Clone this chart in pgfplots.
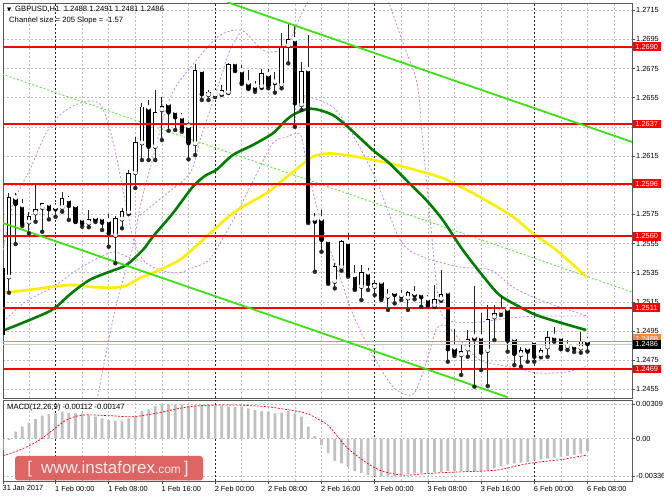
\documentclass[border=0pt]{standalone}
\usepackage{fontspec}
\setmainfont{Liberation Sans}
\newfontfamily\dejavu{DejaVu Sans}
\usepackage{pgfplots}
\usepackage{pgfplotstable}
\pgfplotsset{compat=1.18}

\definecolor{gridc}{RGB}{190,190,190}
\definecolor{limeg}{RGB}{60,225,20}
\definecolor{lgreen}{RGB}{90,235,60}
\definecolor{madark}{RGB}{0,125,0}
\definecolor{mayel}{RGB}{255,238,0}
\definecolor{viol}{RGB}{195,135,230}
\definecolor{wm}{RGB}{221,88,88}
\definecolor{wmt}{RGB}{252,232,232}
\definecolor{histc}{RGB}{192,192,192}
\definecolor{orng}{RGB}{255,135,60}
\definecolor{bidg}{RGB}{200,200,200}

\newcommand{\tk}{\fontsize{7.4}{8.5}\selectfont}
\newcommand{\tx}{\fontsize{7.7}{9}\selectfont}

\pgfplotstableread{
x O H L C
-8 1.25383 1.25396 1.24800 1.24923
-7 1.25319 1.25899 1.25213 1.25871
-6 1.25860 1.25899 1.25547 1.25821
-5 1.25808 1.25856 1.25671 1.25684
-4 1.25696 1.25769 1.25620 1.25741
-3 1.25758 1.25952 1.25700 1.25787
-2 1.25796 1.25830 1.25631 1.25826
-1 1.25819 1.25826 1.25716 1.25785
0 1.25796 1.25826 1.25734 1.25785
1 1.25796 1.25906 1.25769 1.25860
2 1.25849 1.25876 1.25712 1.25808
3 1.25808 1.25821 1.25698 1.25700
4 1.25716 1.25734 1.25666 1.25689
5 1.25689 1.25780 1.25662 1.25716
6 1.25727 1.25734 1.25698 1.25712
7 1.25723 1.25734 1.25643 1.25693
8 1.25705 1.25751 1.25529 1.25620
9 1.25604 1.25739 1.25415 1.25727
10 1.25716 1.25792 1.25655 1.25775
11 1.25762 1.26055 1.25753 1.26032
12 1.26034 1.26283 1.25931 1.26244
13 1.26238 1.26514 1.26123 1.26489
14 1.26478 1.26535 1.26123 1.26214
15 1.26214 1.26603 1.26123 1.26454
16 1.26466 1.26557 1.26260 1.26493
17 1.26507 1.26523 1.26324 1.26450
18 1.26454 1.26466 1.26329 1.26416
19 1.26416 1.26445 1.26317 1.26334
20 1.26351 1.26386 1.26128 1.26238
21 1.26233 1.26785 1.26157 1.26740
22 1.26735 1.26740 1.26535 1.26574
23 1.26569 1.26603 1.26535 1.26589
24 1.26569 1.26583 1.26555 1.26575
25 1.26576 1.26637 1.26569 1.26600
26 1.26586 1.26788 1.26583 1.26781
27 1.26788 1.26795 1.26733 1.26737
28 1.26733 1.26775 1.26644 1.26653
29 1.26649 1.26740 1.26610 1.26615
30 1.26627 1.26667 1.26591 1.26610
31 1.26626 1.26745 1.26617 1.26718
32 1.26706 1.26747 1.26615 1.26634
33 1.26655 1.26729 1.26585 1.26651
34 1.26637 1.26996 1.26615 1.26900
35 1.26905 1.27060 1.26786 1.26951
36 1.26946 1.27049 1.26351 1.26512
37 1.26500 1.26797 1.26466 1.26733
38 1.26740 1.26980 1.25691 1.25700
39 1.25716 1.25758 1.25357 1.25700
40 1.25716 1.25780 1.25494 1.25575
41 1.25568 1.25575 1.25273 1.25282
42 1.25289 1.25415 1.25243 1.25398
43 1.25387 1.25575 1.25364 1.25568
44 1.25556 1.25620 1.25323 1.25335
45 1.25328 1.25403 1.25232 1.25241
46 1.25254 1.25403 1.25163 1.25357
47 1.25346 1.25380 1.25232 1.25273
48 1.25254 1.25300 1.25197 1.25278
49 1.25284 1.25300 1.25163 1.25175
50 1.25186 1.25236 1.25095 1.25204
51 1.25213 1.25227 1.25140 1.25197
52 1.25192 1.25232 1.25163 1.25189
53 1.25175 1.25225 1.25095 1.25216
54 1.25204 1.25259 1.25168 1.25195
55 1.25204 1.25218 1.25117 1.25182
56 1.25168 1.25197 1.25122 1.25132
57 1.25125 1.25266 1.25115 1.25172
58 1.25168 1.25369 1.25158 1.25204
59 1.25216 1.25232 1.24740 1.24825
60 1.24832 1.24962 1.24779 1.24793
61 1.24786 1.24854 1.24649 1.24815
62 1.24825 1.24957 1.24774 1.24896
63 1.24907 1.25259 1.24569 1.24894
64 1.24907 1.25072 1.24683 1.24802
65 1.24815 1.25129 1.24573 1.25031
66 1.25045 1.25129 1.24889 1.25076
67 1.25083 1.25197 1.25060 1.25106
68 1.25099 1.25108 1.24809 1.24884
69 1.24896 1.24909 1.24717 1.24793
70 1.24786 1.24839 1.24706 1.24820
71 1.24832 1.24839 1.24740 1.24809
72 1.24877 1.24889 1.24740 1.24774
73 1.24786 1.24832 1.24770 1.24820
74 1.24839 1.24953 1.24774 1.24911
75 1.24911 1.24980 1.24877 1.24894
76 1.24905 1.24911 1.24825 1.24832
77 1.24843 1.24889 1.24820 1.24859
78 1.24848 1.24855 1.24807 1.24832
79 1.24832 1.24946 1.24802 1.24884
80 1.24880 1.24910 1.24810 1.24860
}\candles

\pgfplotstableread{
x h
-8 -0.00102
-7 -0.00010
-6 0.00063
-5 0.00108
-4 0.00144
-3 0.00177
-2 0.00207
-1 0.00220
0 0.00228
1 0.00243
2 0.00234
3 0.00228
4 0.00228
5 0.00213
6 0.00198
7 0.00183
8 0.00168
9 0.00162
10 0.00162
11 0.00183
12 0.00198
13 0.00249
14 0.00264
15 0.00294
16 0.00309
17 0.00312
18 0.00309
19 0.00309
20 0.00297
21 0.00297
22 0.00297
23 0.00297
24 0.00297
25 0.00294
26 0.00288
27 0.00288
28 0.00288
29 0.00273
30 0.00258
31 0.00249
32 0.00243
33 0.00228
34 0.00234
35 0.00249
36 0.00228
37 0.00198
38 0.00108
39 0.00024
40 -0.00057
41 -0.00131
42 -0.00198
43 -0.00221
44 -0.00252
45 -0.00288
46 -0.00306
47 -0.00327
48 -0.00336
49 -0.00340
50 -0.00340
51 -0.00340
52 -0.00327
53 -0.00318
54 -0.00312
55 -0.00306
56 -0.00306
57 -0.00297
58 -0.00297
59 -0.00290
60 -0.00290
61 -0.00290
62 -0.00288
63 -0.00290
64 -0.00290
65 -0.00282
66 -0.00267
67 -0.00246
68 -0.00228
69 -0.00221
70 -0.00215
71 -0.00209
72 -0.00192
73 -0.00186
74 -0.00177
75 -0.00171
76 -0.00162
77 -0.00156
78 -0.00147
79 -0.00135
80 -0.00112
}\macd

\begin{document}
\begin{tikzpicture}
\path[use as bounding box, fill=white] (0bp,0bp) rectangle (664bp,498bp);

% ---------------- main price panel ----------------
\begin{axis}[
  at={(3bp,100bp)}, anchor=south west,
  scale only axis, width=629bp, height=395bp,
  xmin=-7.9, xmax=86.7, ymin=1.24491, ymax=1.272,
  axis line style={black!65, line width=0.8bp},
  xtick={-4,0,4,8,12,16,20,24,28,32,36,40,44,48,52,56,60,64,68,72,76,80,84},
  xticklabels={},
  xtick style={draw=none},
  ytick={1.2455,1.2475,1.2495,1.2515,1.2535,1.2555,1.2575,1.2595,1.2615,1.2635,1.2655,1.2675,1.2695,1.2715},
  yticklabels={1.2455,1.2475,1.2495,1.2515,1.2535,1.2555,1.2575,,1.2615,,1.2655,1.2675,1.2695,1.2715},
  ytick pos=right, yticklabel pos=right,
  tick align=outside, major tick length=3bp,
  ytick style={black!70, line width=0.6bp},
  yticklabel style={font=\tk, inner sep=0pt, xshift=1bp},
  scaled y ticks=false,
  grid=major,
  major grid style={gridc, dash pattern=on 2bp off 2bp, line width=0.6bp},
  extra x ticks={0,24,48,72}, extra x tick labels={},
  extra x tick style={grid=major, xtick style={draw=none},
     major grid style={black!85, dash pattern=on 2bp off 2bp, line width=0.7bp}},
]
% violet dashed envelope curves
\addplot[viol, dash pattern=on 2bp off 2bp, line width=0.8bp, smooth, tension=0.5] coordinates {
(-7.90,1.25506) (-6.39,1.25828) (-5.04,1.25952) (-3.53,1.26089) (-1.58,1.26295) (0.68,1.26432)
(2.93,1.26500) (5.19,1.26528) (6.69,1.26507) (7.75,1.26397) (8.95,1.26192) (10.00,1.25952)
(10.90,1.25746) (11.96,1.25540) (13.46,1.25424) (15.72,1.25369) (18.42,1.25348) (20.53,1.25383)
(22.94,1.25431) (25.03,1.25575) (27.29,1.25760) (30.31,1.26034) (32.71,1.26240) (34.82,1.26281)
(36.77,1.26301) (37.68,1.26123) (39.03,1.25849) (40.53,1.25609) (42.79,1.25321) (44.59,1.25081)
(47.30,1.24820) (50.76,1.24567) (53.62,1.24512) (55.12,1.24649) (56.32,1.24820) (57.37,1.24971)
(58.88,1.24985) (60.83,1.24889) (63.84,1.24752) (68.35,1.24704) (72.41,1.24663) (76.92,1.24669) (79.93,1.24711)};
\addplot[viol, dash pattern=on 2bp off 2bp, line width=0.8bp, smooth, tension=0.5] coordinates {
(-7.90,1.25012) (-4.59,1.25149) (-0.38,1.25252) (3.23,1.25369) (6.69,1.25458) (8.95,1.25492) (11.2,1.25451) (13.46,1.25424)};
\addplot[viol, dash pattern=on 2bp off 2bp, line width=0.8bp, smooth, tension=0.5] coordinates {
(6.24,1.24477) (8.20,1.24937) (9.70,1.25232) (11.65,1.25527) (12.71,1.25801) (14.96,1.26192) (16.46,1.26452)
(17.97,1.26617) (20.23,1.26754) (22.48,1.26877) (24.74,1.26980) (26.99,1.27015) (28.50,1.27001)
(30.31,1.26912) (31.81,1.26864) (33.76,1.26877) (35.27,1.26946) (36.77,1.27104) (38.28,1.27241)};
\addplot[viol, dash pattern=on 2bp off 2bp, line width=0.8bp, smooth, tension=0.5] coordinates {
(12.71,1.25746) (16.46,1.25883) (20.23,1.26034) (21.73,1.26260) (23.24,1.26466) (24.74,1.26672) (26.24,1.26877) (27.74,1.26994)};
\addplot[viol, dash pattern=on 2bp off 2bp, line width=0.8bp, smooth, tension=0.5] coordinates {
(49.86,1.27241) (52.27,1.26925) (54.37,1.26651) (55.12,1.26308) (55.87,1.25938) (56.78,1.25506)
(57.38,1.25232) (58.13,1.25060) (60.09,1.25012) (63.85,1.25012) (68.36,1.25040) (72.87,1.25053) (79.94,1.25053)};
\addplot[viol, dash pattern=on 2bp off 2bp, line width=0.8bp, smooth, tension=0.5] coordinates {
(36.77,1.26569) (42.19,1.26466) (47.75,1.26034) (51.82,1.25575) (55.28,1.25458) (60.84,1.25389)
(65.35,1.25369) (68.81,1.25252) (72.87,1.25163) (79.94,1.25053)};
% dashed middle channel line
\addplot[lgreen, dash pattern=on 2bp off 2bp, line width=0.9bp] coordinates {(-8.05,1.26713) (86.70,1.25218)};
% moving averages
\addplot[mayel, line width=2.6bp, smooth, tension=0.5] coordinates {
(-7.67,1.25213) (-3.41,1.25236) (2.11,1.25266) (6.12,1.25250) (10.12,1.25254) (12.63,1.25312)
(15.64,1.25369) (18.65,1.25437) (20.65,1.25513) (26.66,1.25758) (31.68,1.25895) (34.18,1.25986)
(36.69,1.26077) (38.69,1.26146) (41.20,1.26168) (45.22,1.26146) (51.23,1.26089) (57.74,1.26007)
(59.74,1.25967) (63.76,1.25871) (68.77,1.25734) (71.77,1.25620) (75.29,1.25506) (79.80,1.25323)};
\addplot[madark, line width=2.6bp, smooth, tension=0.5] coordinates {
(-7.67,1.24957) (-3.91,1.25026) (-0.41,1.25099) (2.36,1.25209) (5.11,1.25300) (8.12,1.25357)
(10.63,1.25403) (13.13,1.25506) (14.63,1.25597) (17.64,1.25758) (20.65,1.25940) (22.66,1.26020)
(24.17,1.26055) (26.66,1.26157) (29.67,1.26226) (32.68,1.26306) (34.18,1.26375) (35.68,1.26432)
(37.70,1.26471) (39.20,1.26471) (41.70,1.26432) (43.95,1.26351) (47.71,1.26192) (50.23,1.26100)
(53.23,1.25963) (55.74,1.25849) (58.24,1.25712) (61.25,1.25506) (64.77,1.25300) (66.77,1.25197)
(69.28,1.25129) (72.29,1.25060) (76.29,1.25003) (79.80,1.24957)};
% candles: wicks
\addplot[black!85, only marks, mark=none, forget plot,
  error bars/.cd, y dir=plus, y explicit, error mark=none,
  error bar style={line width=1bp, black!85}]
  table[x=x, y=L, y error expr={\thisrow{H}-\thisrow{L}}] {\candles};
% candles: bodies
\addplot[black, only marks, mark=none, forget plot,
  error bars/.cd, y dir=plus, y explicit, error mark=none,
  error bar style={line width=4.4bp, black}]
  table[x=x, y expr={min(\thisrow{O},\thisrow{C})}, y error expr={max(abs(\thisrow{C}-\thisrow{O}),0.00007)}] {\candles};
% candles: white interior of rising bars
\addplot[white, only marks, mark=none, forget plot,
  error bars/.cd, y dir=plus, y explicit, error mark=none,
  error bar style={line width=2.6bp, white}]
  table[x=x, y expr={\thisrow{O}+0.000057}, y error expr={(\thisrow{C}>\thisrow{O})*max(\thisrow{C}-\thisrow{O}-0.000114,0)}] {\candles};
% horizontal levels
\addplot[red, line width=1.6bp] coordinates {(-10,1.2690) (90,1.2690)};
\addplot[red, line width=1.6bp] coordinates {(-10,1.2637) (90,1.2637)};
\addplot[red, line width=1.6bp] coordinates {(-10,1.2596) (90,1.2596)};
\addplot[red, line width=1.6bp] coordinates {(-10,1.2560) (90,1.2560)};
\addplot[red, line width=1.6bp] coordinates {(-10,1.2511) (90,1.2511)};
\addplot[red, line width=1.6bp] coordinates {(-10,1.2469) (90,1.2469)};
\addplot[bidg, line width=1.3bp] coordinates {(-10,1.2486) (90,1.2486)};
\addplot[orng, line width=1bp] coordinates {(-10,1.2488) (90,1.2488)};
% channel lines
\addplot[limeg, line width=1.8bp] coordinates {(25.79,1.27206) (86.70,1.26247)};
\addplot[limeg, line width=1.8bp] coordinates {(-7.90,1.25691) (67.90,1.24498)};

\coordinate (r1) at (axis cs:86.7,1.2690);
\coordinate (r2) at (axis cs:86.7,1.2637);
\coordinate (r3) at (axis cs:86.7,1.2596);
\coordinate (r4) at (axis cs:86.7,1.2560);
\coordinate (r5) at (axis cs:86.7,1.2511);
\coordinate (r6) at (axis cs:86.7,1.2469);
\coordinate (ra) at (axis cs:86.7,1.24885);
\coordinate (rb) at (axis cs:86.7,1.2486);
\end{axis}

% ---------------- MACD panel ----------------
\begin{axis}[
  at={(3bp,17bp)}, anchor=south west,
  scale only axis, width=629bp, height=81bp,
  xmin=-7.9, xmax=86.7, ymin=-0.0038, ymax=0.00348,
  axis line style={black!65, line width=0.8bp},
  xtick={-7.9,0,8,16,24,32,40,48,56,64,72,80},
  xticklabels={31 Jan 2017,1 Feb 00:00,1 Feb 08:00,1 Feb 16:00,2 Feb 00:00,2 Feb 08:00,2 Feb 16:00,3 Feb 00:00,3 Feb 08:00,3 Feb 16:00,6 Feb 00:00,6 Feb 08:00},
  minor xtick={-4,4,12,20,28,36,44,52,60,68,76,84},
  xtick pos=bottom, ytick pos=right, yticklabel pos=right,
  tick align=outside, major tick length=3bp, minor tick length=0bp,
  tick style={black!70, line width=0.6bp},
  xticklabel style={font=\tk, anchor=north west, inner sep=0pt, yshift=-1.5bp, xshift=-0.5bp},
  ytick={-0.00336,0,0.00309},
  yticklabels={-0.00336,0.00,0.00309},
  yticklabel style={font=\tk, inner sep=0pt, xshift=1bp},
  scaled y ticks=false,
  xmajorgrids, xminorgrids, ymajorgrids,
  major grid style={gridc, dash pattern=on 2bp off 2bp, line width=0.6bp},
  minor grid style={gridc, dash pattern=on 2bp off 2bp, line width=0.6bp},
  extra x ticks={0,24,48,72}, extra x tick labels={},
  extra x tick style={grid=major, xtick style={draw=none},
     major grid style={black!85, dash pattern=on 2bp off 2bp, line width=0.7bp}},
]
\addplot[ybar, bar width=2.7bp, fill=histc, draw=none, forget plot] table[x=x,y=h] {\macd};
\addplot[red, dash pattern=on 2bp off 1.5bp, line width=0.7bp, smooth, tension=0.5] coordinates {
(-8.42,-0.00162) (-5.41,-0.00102) (-2.41,-0.00012) (-0.41,0.00078) (1.61,0.00168) (4.11,0.00213)
(8.12,0.00207) (11.62,0.00198) (15.14,0.00229) (18.65,0.00273) (21.65,0.00297) (26.66,0.00303)
(31.68,0.00288) (35.19,0.00258) (37.70,0.00229) (39.70,0.00168) (41.20,0.00108) (43.71,-0.00072)
(46.21,-0.00192) (48.72,-0.00282) (52.23,-0.00327) (56.24,-0.00311) (61.25,-0.00297)
(66.27,-0.00282) (71.28,-0.00221) (76.29,-0.00185) (79.80,-0.00147)};
\end{axis}

% ---------------- labels ----------------
\tikzset{lab/.style={anchor=west, text=white, font=\tk, inner xsep=2.6bp, inner ysep=0pt,
   minimum height=8.8bp, xshift=0.6bp}}
\node[lab, fill=red] at (r1) {1.2690};
\node[lab, fill=red] at (r2) {1.2637};
\node[lab, fill=red] at (r3) {1.2596};
\node[lab, fill=red] at (r4) {1.2560};
\node[lab, fill=red] at (r5) {1.2511};
\node[lab, fill=red] at (r6) {1.2469};
\node[lab, fill=orng, yshift=1.8bp] at (ra) {1.2488};
\node[lab, fill=black] at (rb) {1.2486};

% header
\node[anchor=base west, inner sep=0pt] at (7bp,486.5bp) {\dejavu\fontsize{5.5}{6}\selectfont ▼};
\node[anchor=base west, inner sep=0pt, font=\tx] at (15bp,486.3bp) {GBPUSD,H1\ \ 1.2488 1.2491 1.2481 1.2486};
\node[anchor=base west, inner sep=0pt, font=\tx] at (9bp,475.3bp) {Channel size = 205 Slope = -1.57};
\node[anchor=base west, inner sep=0pt, font=\tx] at (7bp,88bp) {MACD(12,26,9) -0.00112 -0.00147};

% watermark
\fill[wm, opacity=0.92, rounded corners=3bp] (15bp,17.5bp) rectangle (203bp,42bp);
\node[text=wmt, inner sep=0pt] at (108bp,29bp) {\fontsize{17}{17}\selectfont[\hspace{9bp}www.instaforex{\fontsize{12}{12}\selectfont.com}\hspace{3bp}]};
\end{tikzpicture}
\end{document}
